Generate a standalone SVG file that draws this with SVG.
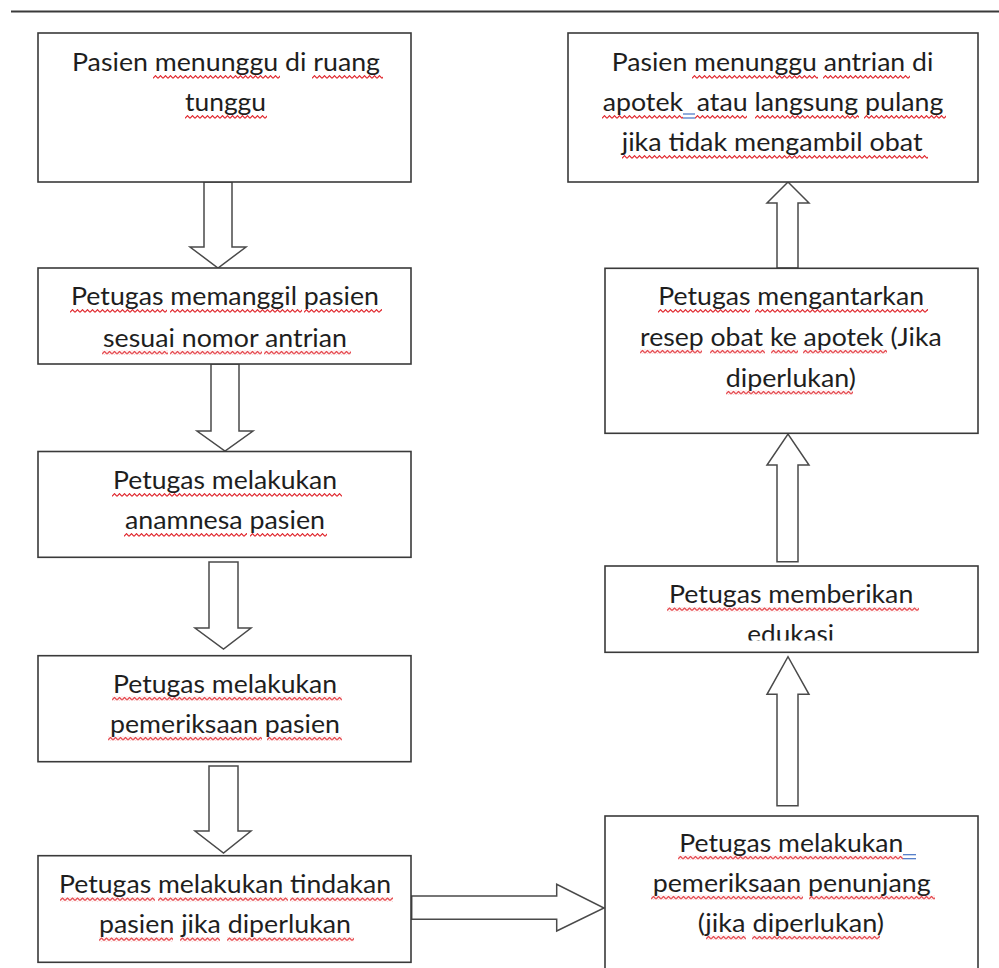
<svg xmlns="http://www.w3.org/2000/svg" width="999" height="968" viewBox="0 0 999 968">
<style>
.box{fill:#fff;stroke:#3a3a3a;stroke-width:1.6}
.arr{fill:#fff;stroke:#4a4a4a;stroke-width:1.5;stroke-linejoin:miter}
.t{font-family:Lato,"Liberation Sans",sans-serif;font-size:25px;fill:#1e1e1e}
.bl{stroke:#4472c4;stroke-width:1.2}
</style>
<defs>
<pattern id="wave" x="0" y="0" width="5" height="4" patternUnits="userSpaceOnUse">
<path d="M0,3.3 L2.5,0.7 L5,3.3" fill="none" stroke="#e0242a" stroke-width="1.2"/>
</pattern>
<clipPath id="clipEdu"><rect x="605" y="566" width="373" height="74.5"/></clipPath>
</defs>
<rect width="999" height="968" fill="#fff"/>
<line x1="11" y1="11.5" x2="999" y2="11.5" stroke="#3a3a3a" stroke-width="2"/>

<g id="connectors">
<polygon class="arr" points="204,182 232,182 232,247 246,247 218,268 190,247 204,247"/>
<polygon class="arr" points="211,364 239,364 239,431 253,431 225,451 197,431 211,431"/>
<polygon class="arr" points="209,562 238,562 238,628 251,628 223.5,649 195,628 209,628"/>
<polygon class="arr" points="209,766 238,766 238,831 251,831 223.5,853 195,831 209,831"/>
<polygon class="arr" points="411.7,896 556.7,896 556.7,884.3 604,908 556.7,931 556.7,919.3 411.7,919.3"/>
<polygon class="arr" points="777,805.7 798,805.7 798,694.3 809,694.3 788,656.7 767,694.3 777,694.3"/>
<polygon class="arr" points="777,561.7 798,561.7 798,465 809,465 788,434 767,465 777,465"/>
<polygon class="arr" points="777,268 798,268 798,203 809,203 788,182 767,203 777,203"/>
</g>

<g id="n1">
<rect class="box" x="38" y="33" width="373" height="149"/>
<text class="t" x="72" y="71" textLength="308" lengthAdjust="spacingAndGlyphs">Pasien menunggu di ruang</text>
<text class="t" x="185" y="111" textLength="81" lengthAdjust="spacingAndGlyphs">tunggu</text>
<rect fill="url(#wave)" width="127" height="4" transform="translate(153,75)"/>
<rect fill="url(#wave)" width="71" height="4" transform="translate(312,75)"/>
<rect fill="url(#wave)" width="82" height="4" transform="translate(185,115)"/>
</g>

<g id="n2">
<rect class="box" x="38" y="268" width="373" height="96"/>
<text class="t" x="71" y="305" textLength="308" lengthAdjust="spacingAndGlyphs">Petugas memanggil pasien</text>
<text class="t" x="103" y="346.7" textLength="244" lengthAdjust="spacingAndGlyphs">sesuai nomor antrian</text>
<rect fill="url(#wave)" width="97" height="4" transform="translate(70,309)"/>
<rect fill="url(#wave)" width="132" height="4" transform="translate(170,309)"/>
<rect fill="url(#wave)" width="78" height="4" transform="translate(304,309)"/>
<rect fill="url(#wave)" width="66" height="4" transform="translate(102,350.7)"/>
<rect fill="url(#wave)" width="92" height="4" transform="translate(170,350.7)"/>
<rect fill="url(#wave)" width="87" height="4" transform="translate(264,350.7)"/>
</g>

<g id="n3">
<rect class="box" x="38" y="451.5" width="373" height="105.8"/>
<text class="t" x="113" y="489" textLength="224" lengthAdjust="spacingAndGlyphs">Petugas melakukan</text>
<text class="t" x="125" y="529" textLength="200" lengthAdjust="spacingAndGlyphs">anamnesa pasien</text>
<rect fill="url(#wave)" width="230" height="4" transform="translate(112,493)"/>
<rect fill="url(#wave)" width="123" height="4" transform="translate(124,533)"/>
<rect fill="url(#wave)" width="77" height="4" transform="translate(250,533)"/>
</g>

<g id="n4">
<rect class="box" x="38" y="655.7" width="373" height="106"/>
<text class="t" x="113" y="692.7" textLength="224" lengthAdjust="spacingAndGlyphs">Petugas melakukan</text>
<text class="t" x="110" y="732.7" textLength="230" lengthAdjust="spacingAndGlyphs">pemeriksaan pasien</text>
<rect fill="url(#wave)" width="230" height="4" transform="translate(112,696.7)"/>
<rect fill="url(#wave)" width="154" height="4" transform="translate(108,736.7)"/>
<rect fill="url(#wave)" width="75" height="4" transform="translate(267,736.7)"/>
</g>

<g id="n5">
<rect class="box" x="38" y="855.7" width="373" height="106.6"/>
<text class="t" x="59" y="893.3" textLength="332" lengthAdjust="spacingAndGlyphs">Petugas melakukan tindakan</text>
<text class="t" x="99" y="933.3" textLength="252" lengthAdjust="spacingAndGlyphs">pasien jika diperlukan</text>
<rect fill="url(#wave)" width="95" height="4" transform="translate(60,897.3)"/>
<rect fill="url(#wave)" width="130" height="4" transform="translate(158,897.3)"/>
<rect fill="url(#wave)" width="103" height="4" transform="translate(290,897.3)"/>
<rect fill="url(#wave)" width="74" height="4" transform="translate(99,937.3)"/>
<rect fill="url(#wave)" width="40" height="4" transform="translate(180,937.3)"/>
<rect fill="url(#wave)" width="127" height="4" transform="translate(227,937.3)"/>
</g>

<g id="n6">
<rect class="box" x="605" y="816" width="373" height="160"/>
<text class="t" x="679.3" y="851.7" textLength="224" lengthAdjust="spacingAndGlyphs">Petugas melakukan</text>
<text class="t" x="652.7" y="891.7" textLength="278" lengthAdjust="spacingAndGlyphs">pemeriksaan penunjang</text>
<text class="t" x="697.7" y="931.7" textLength="186.3" lengthAdjust="spacingAndGlyphs">(jika diperlukan)</text>
<rect fill="url(#wave)" width="225" height="4" transform="translate(678,855.7)"/>
<line class="bl" x1="903" y1="854.7" x2="916" y2="854.7"/>
<line class="bl" x1="903" y1="858.7" x2="916" y2="858.7"/>
<rect fill="url(#wave)" width="152" height="4" transform="translate(651,895.7)"/>
<rect fill="url(#wave)" width="126" height="4" transform="translate(809,895.7)"/>
<rect fill="url(#wave)" width="40" height="4" transform="translate(706,935.7)"/>
<rect fill="url(#wave)" width="128" height="4" transform="translate(752,935.7)"/>
</g>

<g id="n7">
<rect class="box" x="605" y="566" width="373" height="86.3"/>
<text class="t" x="669" y="603.3" textLength="244.3" lengthAdjust="spacingAndGlyphs">Petugas memberikan</text>
<text class="t" x="747.3" y="643" textLength="86.7" lengthAdjust="spacingAndGlyphs" clip-path="url(#clipEdu)">edukasi</text>
<rect fill="url(#wave)" width="252" height="4" transform="translate(667,607.3)"/>
</g>

<g id="n8">
<rect class="box" x="605" y="268.3" width="373" height="165"/>
<text class="t" x="658.3" y="305" textLength="265.7" lengthAdjust="spacingAndGlyphs">Petugas mengantarkan</text>
<text class="t" x="640" y="345.7" textLength="301.7" lengthAdjust="spacingAndGlyphs">resep obat ke apotek (Jika</text>
<text class="t" x="725.7" y="386.7" textLength="130.3" lengthAdjust="spacingAndGlyphs">diperlukan)</text>
<rect fill="url(#wave)" width="92" height="4" transform="translate(658,309)"/>
<rect fill="url(#wave)" width="173" height="4" transform="translate(755,309)"/>
<rect fill="url(#wave)" width="62" height="4" transform="translate(640,349.7)"/>
<rect fill="url(#wave)" width="55" height="4" transform="translate(710,349.7)"/>
<rect fill="url(#wave)" width="27" height="4" transform="translate(771,349.7)"/>
<rect fill="url(#wave)" width="84" height="4" transform="translate(803,349.7)"/>
<rect fill="url(#wave)" width="127" height="4" transform="translate(726,390.7)"/>
</g>

<g id="n9">
<rect class="box" x="568" y="33" width="410" height="149"/>
<text class="t" x="611.7" y="71" textLength="321.6" lengthAdjust="spacingAndGlyphs">Pasien menunggu antrian di</text>
<text class="t" x="602.7" y="111" textLength="340.6" lengthAdjust="spacingAndGlyphs" xml:space="preserve">apotek  atau langsung pulang</text>
<text class="t" x="621.7" y="151" textLength="301" lengthAdjust="spacingAndGlyphs">jika tidak mengambil obat</text>
<rect fill="url(#wave)" width="126" height="4" transform="translate(692,75)"/>
<rect fill="url(#wave)" width="87" height="4" transform="translate(823,75)"/>
<rect fill="url(#wave)" width="81" height="4" transform="translate(602,115)"/>
<line class="bl" x1="683" y1="114" x2="695" y2="114"/>
<line class="bl" x1="683" y1="118" x2="695" y2="118"/>
<rect fill="url(#wave)" width="52" height="4" transform="translate(695,115)"/>
<rect fill="url(#wave)" width="104" height="4" transform="translate(755,115)"/>
<rect fill="url(#wave)" width="82" height="4" transform="translate(864,115)"/>
<rect fill="url(#wave)" width="306" height="4" transform="translate(622,155)"/>
</g>
</svg>
